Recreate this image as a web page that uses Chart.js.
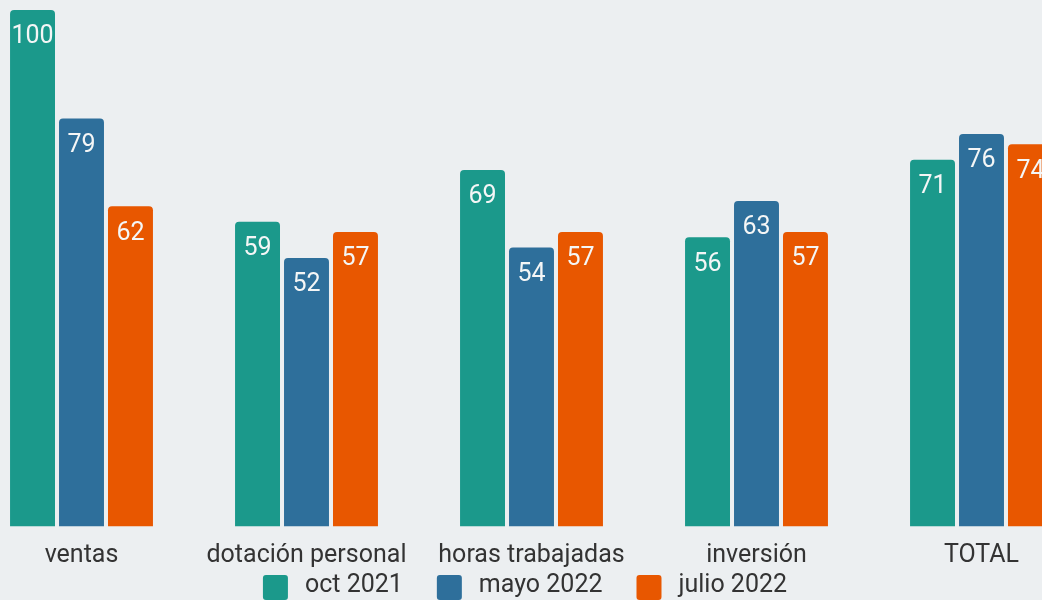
<!DOCTYPE html>
<html>
<head>
<meta charset="utf-8">
<script src="https://cdn.jsdelivr.net/npm/chart.js@4.4.0/dist/chart.umd.min.js"></script>
<style>
  html, body { margin: 0; padding: 0; background: #eceff1; overflow: hidden; width: 1042px; height: 600px; }
  #wrap { position: absolute; left: -44.5px; top: 0; width: 1138px; height: 600px; }
</style>
</head>
<body>
<div id="wrap"><canvas id="c"></canvas></div>
<script>
const categories = ["ventas", "dotación personal", "horas trabajadas", "inversión", "TOTAL"];
const seriesNames = ["oct 2021", "mayo 2022", "julio 2022"];
const oct2021 = [100, 59, 69, 56, 71];
const mayo2022 = [79, 52, 54, 63, 76];
const julio2022 = [62, 57, 57, 57, 74];
const colors = ["#1b998b", "#2e6f9b", "#e85700"];

const valueLabels = {
  id: 'valueLabels',
  afterDatasetsDraw(chart) {
    const ctx = chart.ctx;
    ctx.save();
    ctx.fillStyle = '#f4f6f6';
    ctx.font = '25px Roboto';
    ctx.textAlign = 'center';
    ctx.textBaseline = 'middle';
    chart.data.datasets.forEach((ds, i) => {
      const meta = chart.getDatasetMeta(i);
      meta.data.forEach((bar, j) => {
        ctx.fillText(String(ds.data[j]), bar.x, bar.y + 27);
      });
    });
    ctx.restore();
  }
};

const bottomLegend = {
  id: 'bottomLegend',
  afterDraw(chart) {
    const ctx = chart.ctx;
    const box = 25, gapText = 17, gapItem = 34;
    ctx.save();
    ctx.font = '25px Roboto';
    ctx.textBaseline = 'middle';
    ctx.textAlign = 'left';
    const items = chart.data.datasets.map(ds => ({
      text: ds.label, color: ds.backgroundColor, w: ctx.measureText(ds.label).width
    }));
    const total = items.reduce((s, it) => s + box + gapText + it.w, 0) + gapItem * (items.length - 1);
    let x = chart.width / 2 - total / 2;
    const cy = 587;
    items.forEach(it => {
      ctx.fillStyle = it.color;
      ctx.beginPath();
      ctx.roundRect(x, cy - 12, box, 25, 3);
      ctx.fill();
      ctx.fillStyle = '#333333';
      ctx.fillText(it.text, x + box + gapText, cy - 1);
      x += box + gapText + it.w + gapItem;
    });
    ctx.restore();
  }
};

new Chart(document.getElementById('c'), {
  type: 'bar',
  data: {
    labels: categories,
    datasets: [oct2021, mayo2022, julio2022].map((d, i) => ({
      label: seriesNames[i],
      data: d,
      backgroundColor: colors[i],
      borderRadius: 4,
      categoryPercentage: 0.653,
      barPercentage: 0.918
    }))
  },
  options: {
    responsive: true,
    maintainAspectRatio: false,
    animation: false,
    layout: { padding: { top: 10, left: 0, right: 0, bottom: 14.5 } },
    plugins: {
      tooltip: { enabled: false },
      legend: { display: false }
    },
    scales: {
      x: {
        grid: { display: false, drawTicks: false },
        border: { display: false },
        ticks: { font: { family: 'Roboto', size: 25 }, color: '#333333', padding: 14.5, maxRotation: 0, autoSkip: false }
      },
      y: {
        min: 0, max: 100,
        grid: { display: false, drawTicks: false },
        border: { display: false },
        ticks: { display: false },
        afterFit(s) { s.width = 13; }
      }
    }
  },
  plugins: [valueLabels, bottomLegend]
});
</script>
</body>
</html>
